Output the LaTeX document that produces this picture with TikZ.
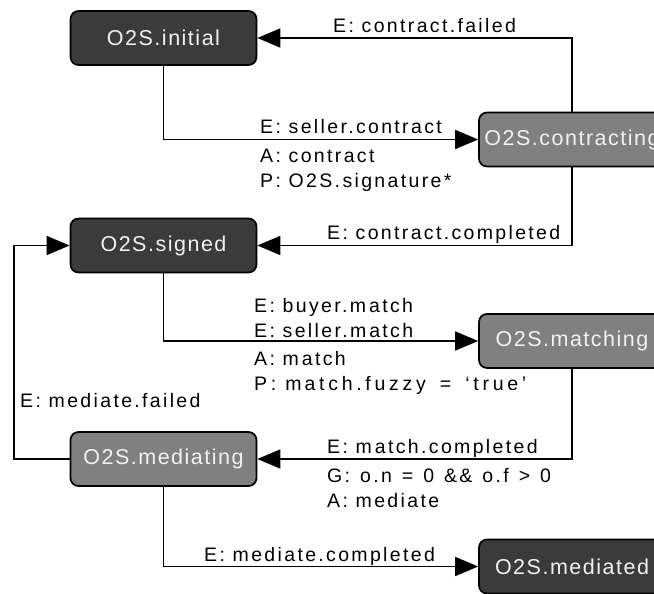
\documentclass[tikz,border=0pt]{standalone}
\usepackage{fontspec}
\setmainfont{Liberation Sans}
\newfontfamily\edgefont[LetterSpace=12]{Liberation Sans}
\newfontfamily\edgefontwide[LetterSpace=19]{Liberation Sans}
\newfontfamily\statefont[LetterSpace=7]{Liberation Sans}
\usetikzlibrary{arrows.meta}
\definecolor{statedark}{HTML}{3B3B3B}
\definecolor{statemid}{HTML}{808080}
\definecolor{statetext}{HTML}{F2F2F2}
% a wide "m", as the labels set it
\newcommand\wm{m\kern3pt}
\tikzset{
  state/.style={draw=black, line width=1.7pt, rounded corners=8pt,
    minimum width=186pt, minimum height=54pt, inner sep=0pt,
    text=statetext, font=\statefont\fontsize{21.5}{24}\selectfont},
  darkstate/.style={state, fill=statedark},
  midstate/.style={state, fill=statemid},
  lbl/.style={anchor=base west, inner sep=0pt,
    font=\edgefont\fontsize{19.5}{23}\selectfont},
  flow/.style={draw=black, line width=1.7pt,
    -{Triangle[length=23pt, width=19pt]}},
}
\begin{document}
\begin{tikzpicture}[x=1pt, y=-1pt]
\useasboundingbox (0,0) rectangle (654,594);

% states
\node[darkstate] (ini) at (163.5,38)  {O2S.initial};
\node[midstate]  (con) at (572,139.5) {O2S.contracting};
\node[darkstate] (sig) at (163.5,245.5) {O2S.signed};
\node[midstate]  (mat) at (572,341)   {O2S.matching};
\node[midstate]  (med) at (163.5,459) {O2S.mediating};
\node[darkstate] (mdd) at (572,566.5) {O2S.mediated};

% transitions
\draw[flow] (con.north) |- (ini.east);
\draw[flow] (ini.south) |- (con.west);
\draw[flow] (con.south) |- (sig.east);
\draw[flow] (sig.south) |- (mat.west);
\draw[flow] (mat.south) |- (med.east);
\draw[flow] (med.west) -- ++(-56,0) |- (sig.west);
\draw[flow] (med.south) |- (mdd.west);

% transition labels
\node[lbl] (l1)  at (333,33)  {E: contract.failed};
\node[lbl] (l2)  at (260,134) {E: seller.contract};
\node[lbl] (l3)  at (260,162) {A: contract};
\node[lbl] (l4)  at (260,187) {P: O2S.signature*};
\node[lbl] (l5)  at (327,239) {E: contract.completed};
\node[lbl] (l6)  at (254,312) {E: buyer.\wm atch};
\node[lbl] (l7)  at (254,337) {E: seller.\wm atch};
\node[lbl] (l8)  at (254,365) {A: \wm atch};
\node[lbl, font=\edgefontwide\fontsize{19.5}{23}\selectfont] (l9) at (254,390)
  {P: \wm atch.fuzzy\hspace{5pt} = \hspace{5pt}‘true’};
\node[lbl] (l10) at (20,407)  {E: mediate.failed};
\node[lbl] (l11) at (327,453) {E: \wm atch.completed};
\node[lbl] (l12) at (327,482) {\spaceskip=10pt G: o.n = 0 \&\& o.f > 0};
\node[lbl] (l13) at (327,507) {A: mediate};
\node[lbl] (l14) at (204,561) {E: mediate.completed};
\end{tikzpicture}
\end{document}
